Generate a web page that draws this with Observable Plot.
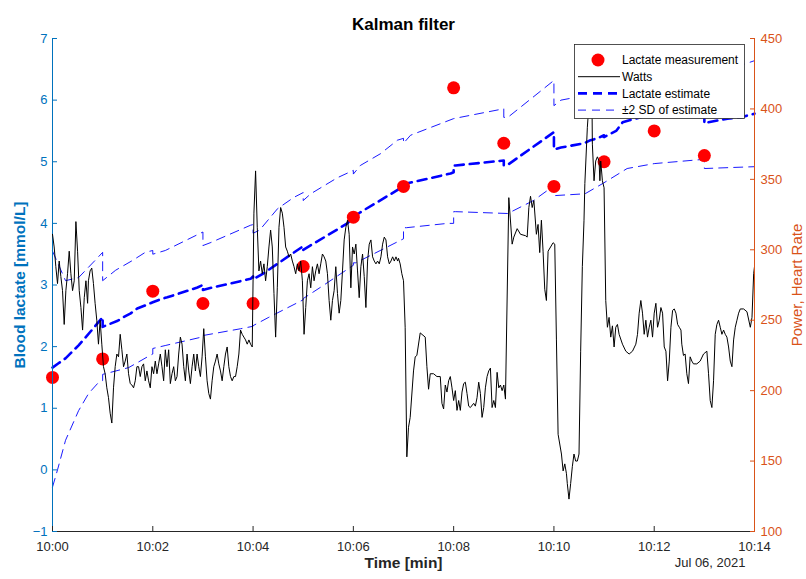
<!DOCTYPE html>
<html>
<head>
<meta charset="utf-8">
<script src="https://cdn.jsdelivr.net/npm/d3@7"></script>
<script src="https://cdn.jsdelivr.net/npm/@observablehq/plot@0.6"></script>
<style>
  body { margin: 0; background: #fff; font-family: "Liberation Sans", Arial, sans-serif; }
  #wrap { position: relative; width: 806px; height: 579px; overflow: hidden; }
  #wrap > svg { position: absolute; left: 0; top: 0; }
</style>
</head>
<body>
<div id="wrap"></div>
<script>
// ---------- data ----------
const titleText = "Kalman filter";
const dateText = "Jul 06, 2021";
const timeTickMin = [0, 2, 4, 6, 8, 10, 12, 14];
const lactateTicks = [-1, 0, 1, 2, 3, 4, 5, 6, 7];
const powerTicks = [100, 150, 200, 250, 300, 350, 400, 450];
const lactateDomain = [-1, 7];
const powerDomain = [100, 450];
const timeDomainMin = [0, 14];

// lactate measurements (minutes after 10:00, mmol/L)
const measMin = [0, 1, 2, 3, 4, 5, 6, 7, 8, 9, 10, 11, 12, 13];
const measLactate = [1.5, 1.8, 2.9, 2.7, 2.7, 3.3, 4.1, 4.6, 6.2, 5.3, 4.6, 5.0, 5.5, 5.1];

// Kalman lactate estimate
const estMin = [0,0.12,0.26,0.52,0.66,0.9,1,1,1.3,1.4,1.56,1.69,1.85,2,2.16,2.29,2.89,3,3,3.09,3.95,4,4,4.21,5,5,5.88,6,6.14,7,7,7.08,7.94,8,8,8.04,9,9,9.06,10,10,10.14,10.6,10.73,10.87,11,11,11.24,11.37,11.49,12,12,13,13,13.08,13.46,13.72,14];
const estLactate = [1.66,1.73,1.81,2.02,2.15,2.38,2.48,2.32,2.42,2.47,2.54,2.62,2.67,2.72,2.77,2.8,2.96,3.0,2.92,2.94,3.1,3.14,3.09,3.19,3.63,3.57,4.0,4.1,4.18,4.6,4.62,4.65,4.81,4.83,4.94,4.94,5.02,4.94,4.94,5.48,5.2,5.23,5.3,5.35,5.38,5.43,5.4,5.5,5.64,5.67,5.78,5.74,5.85,5.62,5.64,5.7,5.72,5.78];

// +2 SD band
const upMin = [0,0.26,0.52,0.85,1,1,1.26,1.6,1.85,2,2,2.25,3,3,3.16,3.95,4,4,4.13,4.49,4.81,5,5,5.15,5.68,6,6,6.14,6.54,6.88,7,7,7.14,8,9,9,9.08,10,10,10.14,10.4,11,11,12,12,13,13,14];
const upLactate = [3.55,3.07,3.12,3.4,3.53,3.07,3.24,3.4,3.53,3.56,3.5,3.56,3.86,3.64,3.69,3.97,3.98,3.84,3.89,4.24,4.42,4.5,4.37,4.48,4.74,4.86,4.8,4.94,5.13,5.35,5.38,5.3,5.43,5.7,5.86,5.72,5.72,6.32,5.91,6.0,6.04,6.2,6.15,6.62,6.5,6.56,6.36,6.64];

// -2 SD band
const lowMin = [0,0.1,0.26,0.52,0.72,0.92,1,1,1.1,1.52,1.95,2,2,2.26,2.95,3,3,3.75,4,4,4.3,5,5,5.34,6,6,6.05,7,7,7.06,7.88,8,8,8.04,9.08,9.59,10,10,10.62,10.98,11.46,12,13,13,14];
const lowLactate = [-0.28,0.0,0.48,0.96,1.24,1.42,1.45,1.55,1.57,1.66,1.86,1.88,1.97,2.02,2.15,2.16,2.18,2.29,2.33,2.34,2.47,2.76,2.78,2.96,3.32,3.36,3.36,3.75,3.93,3.93,4.0,4.0,4.19,4.19,4.16,4.37,4.61,4.45,4.48,4.65,4.89,4.97,5.04,4.89,4.92];

// power (seconds after 10:00, W)
const wattSec = [0,2,4,6,8,10,12,14,16,18,20,22,24,26,28,30,32,34,36,38,40,42,43,45,47,49,51,53,55,57,59,61,63,65,67,69,71,73,75,77,79,81,83,85,87,89,91,93,95,97,99,101,103,105,107,109,111,113,115,117,119,121,123,125,127,129,131,133,135,137,139,141,143,145,147,149,151,153,155,157,159,161,163,165,167,169,171,173,175,177,179,181,183,185,187,189,191,193,195,197,199,201,203,205,207,209,211,213,215,217,219,221,223,225,227,229,231,233,235,237,239,241,243,245,247,249,251,253,255,257,259,261,263,265,267,269,271,273,275,277,279,281,283,285,287,289,291,293,295,297,299,301,303,305,307,309,311,313,315,317,319,321,323,325,327,329,331,333,335,337,339,341,343,345,347,349,351,353,355,357,359,361,363,365,367,369,371,373,375,377,379,381,383,385,387,389,391,393,395,397,399,401,403,405,407,409,411,413,414,416,418,420,422,424,426,428,432,434,436,440,446,448,450,452,456,460,464,466,468,470,472,474,476,478,480,482,484,486,488,490,492,494,496,498,500,504,506,508,510,512,514,516,518,520,522,524,526,528,530,532,534,536,538,540,542,546,550,552,556,560,566,568,570,572,574,576,579,581,583,585,587,589,591,593,599,601,603,605,609,611,613,615,616,618,620,622,624,626,628,630,632,634,636,637,640,642,644,645,646,648,650,652,654,655,656,658,660,662,664,666,668,670,672,674,676,678,682,686,690,694,698,700,702,704,706,708,710,712,714,716,718,720,722,724,726,728,730,732,734,736,738,740,742,744,746,748,750,752,753,755,757,759,761,763,765,767,771,775,779,783,785,787,789,791,793,795,797,799,801,803,805,807,809,811,813,815,817,819,821,823,827,831,835,837,839,840];
const wattVal = [311,302,288,276,292,281,271,247,271,283,299,283,271,278,320,299,271,259,243,266,278,262,278,285,287,276,262,250,233,250,233,217,212,202,195,184,177,202,217,226,224,240,229,217,221,226,212,205,204,202,207,217,217,210,217,219,207,214,207,202,217,212,221,212,219,226,217,207,229,217,229,205,212,217,207,210,226,238,233,217,207,226,214,205,217,226,214,226,217,210,224,244,224,207,198,194,207,217,221,226,219,214,207,217,226,231,217,210,207,210,210,217,226,243,240,238,236,233,236,233,231,326,356,316,285,292,283,290,278,288,302,314,302,269,238,273,316,330,326,316,302,299,295,297,292,288,283,290,285,292,278,240,259,278,283,273,288,278,285,290,283,290,297,295,292,283,264,250,264,271,288,269,255,264,285,307,316,321,311,273,302,297,304,285,266,288,297,281,259,292,304,307,295,292,290,292,290,295,304,309,307,295,290,292,295,292,295,292,294,290,283,278,245,153,174,181,214,224,225,241,238,217,201,212,212,210,210,191,187,204,199,207,210,202,193,200,186,193,186,199,205,206,198,189,188,191,189,195,206,198,181,188,202,210,214,216,188,193,188,213,202,204,200,204,194,337,304,309,315,311,310,309,330,338,330,335,311,318,298,321,299,272,264,299,305,304,236,169,155,143,148,141,134,123,134,146,155,150,150,155,228,288,321,347,387,404,430,440,375,349,363,366,363,349,363,349,344,264,245,252,238,246,231,245,247,240,233,228,226,228,233,240,255,264,255,240,250,238,245,250,238,255,262,245,250,259,255,231,228,207,221,245,257,258,255,247,245,243,233,225,226,212,205,224,221,219,219,221,226,228,212,193,188,207,240,247,250,245,240,243,240,238,231,221,217,236,245,250,255,258,258,256,245,252,283,288];

// ---------- build ----------
const T0 = Date.UTC(2021, 6, 6, 10, 0, 0);
const atMin = m => new Date(T0 + m * 60000);
const atSec = s => new Date(T0 + s * 1000);

const measurements = measMin.map((m, i) => ({time: atMin(m), lactate: measLactate[i]}));
const estimate = estMin.map((m, i) => ({time: atMin(m), lactate: estLactate[i]}));
const upper = upMin.map((m, i) => ({time: atMin(m), lactate: upLactate[i]}));
const lower = lowMin.map((m, i) => ({time: atMin(m), lactate: lowLactate[i]}));
const watts = wattSec.map((s, i) => ({time: atSec(s), watts: wattVal[i]}));
const timeTicks = timeTickMin.map(atMin);
const xDomain = timeDomainMin.map(atMin);

const blue = "#0072BD", orange = "#D95319", ink = "#262626";
const font = "'Liberation Sans', Arial, Helvetica, sans-serif";

const common = {
  width: 806, height: 579,
  marginLeft: 52, marginRight: 52, marginTop: 38, marginBottom: 48
};

const plotA = Plot.plot({
  ...common,
  style: {fontFamily: font, fontSize: "13px", background: "white", overflow: "visible"},
  x: {type: "utc", domain: xDomain},
  y: {domain: lactateDomain},
  marks: [
    Plot.line(upper, {x: "time", y: "lactate", stroke: "#0000ff", strokeWidth: 0.9, strokeDasharray: "9,6"}),
    Plot.line(lower, {x: "time", y: "lactate", stroke: "#0000ff", strokeWidth: 0.9, strokeDasharray: "9,6"}),
    Plot.line(estimate, {x: "time", y: "lactate", stroke: "#0000ff", strokeWidth: 2.6, strokeDasharray: "9,6"}),
    Plot.dot(measurements, {x: "time", y: "lactate", r: 6.5, fill: "#ff0000", stroke: "none"}),
    Plot.ruleY([lactateDomain[0]], {stroke: ink, strokeWidth: 1}),
    Plot.ruleX([xDomain[0]], {stroke: blue, strokeWidth: 1}),
    Plot.axisX({ticks: timeTicks, tickFormat: d3.utcFormat("%H:%M"), tickSize: -5, tickPadding: 15, color: ink, label: null}),
    Plot.axisY({anchor: "left", ticks: lactateTicks, tickSize: -5, tickPadding: 10, color: blue, label: null}),
    Plot.text([titleText], {text: d => d, frameAnchor: "top", dy: -21, fontSize: 17, fontWeight: "bold", fill: "black"}),
    Plot.text(["Time [min]"], {text: d => d, frameAnchor: "bottom", dy: 36, fontSize: 15.5, fontWeight: "bold", fill: ink}),
    Plot.text([dateText], {text: d => d, frameAnchor: "bottom-right", textAnchor: "end", dx: -9, dy: 35, fontSize: 13, fill: ink}),
    Plot.text(["Blood lactate [mmol/L]"], {text: d => d, frameAnchor: "left", textAnchor: "middle", dx: -32, rotate: -90, fontSize: 15.5, fontWeight: "bold", fill: blue})
  ]
});

const plotB = Plot.plot({
  ...common,
  style: {fontFamily: font, fontSize: "13px", background: "transparent", overflow: "visible"},
  x: {type: "utc", domain: xDomain, axis: null},
  y: {domain: powerDomain},
  marks: [
    Plot.line(watts, {x: "time", y: "watts", stroke: "black", strokeWidth: 1}),
    Plot.ruleX([xDomain[1]], {stroke: orange, strokeWidth: 1}),
    Plot.axisY({anchor: "right", ticks: powerTicks, tickSize: -5, tickPadding: 11, color: orange, label: null}),
    Plot.text(["Power, Heart Rate"], {text: d => d, frameAnchor: "right", textAnchor: "middle", dx: 43, rotate: -90, fontSize: 15, fill: orange})
  ]
});

const wrap = document.getElementById("wrap");
wrap.appendChild(plotA);
wrap.appendChild(plotB);

// ---------- legend ----------
const legendItems = [
  {label: "Lactate measurement", kind: "dot"},
  {label: "Watts", kind: "solid"},
  {label: "Lactate estimate", kind: "thick"},
  {label: "\u00b12 SD of estimate", kind: "thin"}
];
const leg = d3.select(wrap).append("svg")
  .attr("width", 171).attr("height", 75)
  .style("left", "574px").style("top", "44px")
  .style("font-family", font).style("font-size", "12px");
leg.append("rect").attr("x", 0.5).attr("y", 0.5).attr("width", 170).attr("height", 74)
  .attr("fill", "white").attr("stroke", ink).attr("stroke-width", 0.8);
legendItems.forEach((it, i) => {
  const y = 16 + i * 16.7;
  if (it.kind === "dot") {
    leg.append("circle").attr("cx", 24).attr("cy", y).attr("r", 6.5).attr("fill", "#ff0000");
  } else {
    const ln = leg.append("line").attr("x1", 4).attr("x2", 46).attr("y1", y).attr("y2", y);
    if (it.kind === "solid") ln.attr("stroke", "black").attr("stroke-width", 1);
    if (it.kind === "thick") ln.attr("stroke", "#0000ff").attr("stroke-width", 2.6).attr("stroke-dasharray", "9,6");
    if (it.kind === "thin") ln.attr("stroke", "#0000ff").attr("stroke-width", 0.9).attr("stroke-dasharray", "8,6");
  }
  leg.append("text").attr("x", 48).attr("y", y).attr("dy", "0.35em").attr("fill", "black").text(it.label);
});
</script>
</body>
</html>
